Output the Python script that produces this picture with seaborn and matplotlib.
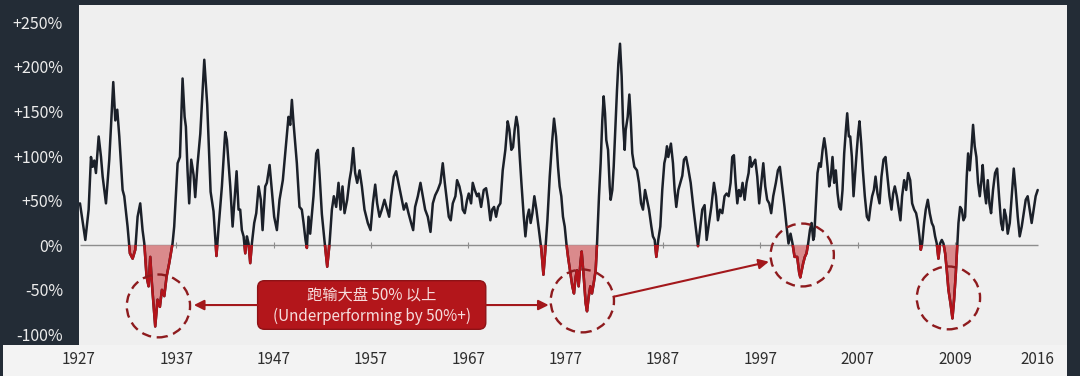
import numpy as np
import pandas as pd
import matplotlib
matplotlib.use("Agg")
import matplotlib.pyplot as plt
import seaborn as sns
from matplotlib.patches import Rectangle, Ellipse, FancyBboxPatch

# ---------------- data ----------------
years = [
    1927.10, 1927.65, 1927.99, 1928.23, 1928.40, 1928.57, 1928.74, 1929.02, 1929.26, 1929.43,
    1929.77, 1930.11, 1930.52, 1930.73, 1930.93, 1931.14, 1931.48, 1931.65, 1931.99, 1932.23,
    1932.51, 1932.78, 1933.02, 1933.29, 1933.53, 1933.71, 1933.94, 1934.15, 1934.32, 1934.49,
    1934.83, 1935.07, 1935.31, 1935.52, 1935.76, 1936.00, 1936.27, 1936.61, 1936.78, 1937.13,
    1937.37, 1937.64, 1937.85, 1937.98, 1938.15, 1938.32, 1938.53, 1938.77, 1938.94, 1939.18,
    1939.46, 1939.87, 1940.17, 1940.52, 1940.82, 1941.12, 1941.34, 1941.68, 1942.02, 1942.19,
    1942.54, 1942.78, 1942.98, 1943.19, 1943.39, 1943.56, 1943.73, 1943.91, 1944.08, 1944.25,
    1944.42, 1944.59, 1944.76, 1945.00, 1945.21, 1945.45, 1945.68, 1945.86, 1946.13, 1946.30,
    1946.58, 1946.81, 1947.05, 1947.33, 1947.60, 1947.94, 1948.22, 1948.52, 1948.70, 1948.87,
    1949.04, 1949.21, 1949.38, 1949.65, 1949.89, 1950.07, 1950.27, 1950.41, 1950.58, 1950.75,
    1951.09, 1951.37, 1951.54, 1951.71, 1951.95, 1952.22, 1952.50, 1952.74, 1952.98, 1953.18,
    1953.42, 1953.66, 1953.87, 1954.07, 1954.28, 1954.55, 1954.79, 1954.96, 1955.17, 1955.37,
    1955.58, 1955.82, 1956.06, 1956.33, 1956.67, 1956.95, 1957.19, 1957.43, 1957.63, 1957.87,
    1958.11, 1958.38, 1958.66, 1958.86, 1959.07, 1959.34, 1959.58, 1959.82, 1960.10, 1960.37,
    1960.61, 1960.85, 1961.12, 1961.33, 1961.53, 1961.81, 1962.08, 1962.32, 1962.56, 1962.83,
    1963.11, 1963.35, 1963.59, 1963.86, 1964.13, 1964.37, 1964.58, 1964.78, 1964.99, 1965.19,
    1965.40, 1965.67, 1965.84, 1966.08, 1966.29, 1966.42, 1966.63, 1966.87, 1967.04, 1967.28,
    1967.45, 1967.66, 1967.90, 1968.07, 1968.31, 1968.58, 1968.82, 1969.02, 1969.26, 1969.44,
    1969.64, 1969.85, 1970.05, 1970.29, 1970.53, 1970.80, 1971.04, 1971.21, 1971.42, 1971.59,
    1971.76, 1971.93, 1972.10, 1972.28, 1972.45, 1972.69, 1972.86, 1973.06, 1973.23, 1973.40,
    1973.58, 1973.78, 1973.99, 1974.16, 1974.33, 1974.50, 1974.71, 1974.91, 1975.12, 1975.36,
    1975.59, 1975.80, 1976.01, 1976.21, 1976.38, 1976.55, 1976.72, 1976.90, 1977.07, 1977.24,
    1977.48, 1977.68, 1977.85, 1978.03, 1978.16, 1978.33, 1978.51, 1978.64, 1978.85, 1979.05,
    1979.19, 1979.36, 1979.53, 1979.70, 1979.87, 1980.08, 1980.22, 1980.42, 1980.59, 1980.76,
    1980.90, 1981.04, 1981.17, 1981.35, 1981.52, 1981.62, 1981.79, 1981.93, 1982.13, 1982.27,
    1982.41, 1982.58, 1982.75, 1982.89, 1983.06, 1983.16, 1983.37, 1983.54, 1983.67, 1983.84,
    1984.05, 1984.32, 1984.53, 1984.74, 1984.94, 1985.15, 1985.35, 1985.56, 1985.80, 1985.96,
    1986.14, 1986.31, 1986.51, 1986.72, 1986.92, 1987.13, 1987.27, 1987.40, 1987.54, 1987.68,
    1987.81, 1988.02, 1988.19, 1988.36, 1988.57, 1988.77, 1988.98, 1989.15, 1989.36, 1989.56,
    1989.84, 1990.11, 1990.35, 1990.59, 1990.79, 1991.03, 1991.27, 1991.48, 1991.72, 1991.96,
    1992.23, 1992.44, 1992.64, 1992.85, 1993.09, 1993.32, 1993.53, 1993.74, 1993.94, 1994.11,
    1994.28, 1994.46, 1994.63, 1994.80, 1994.97, 1995.17, 1995.38, 1995.58, 1995.79, 1995.93,
    1996.10, 1996.27, 1996.47, 1996.68, 1996.88, 1997.09, 1997.30, 1997.50, 1997.70, 1997.91,
    1998.11, 1998.32, 1998.59, 1998.80, 1999.00, 1999.24, 1999.48, 1999.69, 1999.89, 2000.10,
    2000.30, 2000.51, 2000.78, 2000.99, 2001.10, 2001.40, 2001.57, 2001.74, 2001.91, 2002.09,
    2002.26, 2002.43, 2002.53, 2002.67, 2002.87, 2003.04, 2003.21, 2003.39, 2003.56, 2003.73,
    2003.90, 2004.07, 2004.24, 2004.41, 2004.58, 2004.75, 2004.93, 2005.10, 2005.27, 2005.44,
    2005.61, 2005.78, 2005.92, 2006.09, 2006.23, 2006.40, 2006.57, 2006.71, 2006.91, 2007.05,
    2007.18, 2007.36, 2007.53, 2007.73, 2007.94, 2008.14, 2008.31, 2008.48, 2008.66, 2008.83,
    2009.03, 2009.24, 2009.44, 2009.65, 2009.85, 2010.06, 2010.26, 2010.47, 2010.64, 2010.81,
    2011.02, 2011.22, 2011.39, 2011.56, 2011.77, 2011.98, 2012.18, 2012.39, 2012.59, 2012.80,
    2013.00, 2013.14, 2013.34, 2013.48, 2013.62, 2013.82, 2013.99, 2014.20, 2014.40, 2014.61,
    2014.78, 2014.95, 2015.12, 2015.29, 2015.46, 2015.64, 2015.81, 2015.98, 2016.15, 2016.32,
    2016.53, 2016.73, 2016.90, 2017.08, 2017.21, 2017.35, 2017.52, 2017.69, 2017.86, 2018.03,
    2018.20, 2018.34, 2018.51, 2018.68, 2018.85, 2019.02, 2019.19, 2019.36, 2019.54, 2019.71,
    2019.84, 2020.02, 2020.19, 2020.36, 2020.53, 2020.70, 2020.90, 2021.11, 2021.32, 2021.52,
    2021.73, 2021.90, 2022.07, 2022.24, 2022.41, 2022.62, 2022.82, 2023.03, 2023.23, 2023.44,
    2023.64, 2023.85, 2024.05, 2024.26, 2024.46, 2024.67, 2024.87, 2025.08, 2025.28, 2025.49,
]
values = [
    47, 6, 40, 99, 88, 95, 81, 122, 99, 77,
    47, 96, 183, 140, 152, 122, 62, 55, 21, -9,
    -15, -5, 32, 47, 17, 2, -35, -46, -13, -43,
    -91, -61, -69, -50, -57, -35, -20, 2, 21, 92,
    99, 187, 144, 133, 84, 47, 96, 79, 54, 91,
    125, 208, 158, 60, 38, -12, 20, 66, 127, 118,
    66, 21, 51, 83, 40, 40, 17, 10, -9, 10,
    2, -20, 2, 25, 36, 66, 51, 17, 66, 70,
    90, 62, 32, 17, 51, 73, 107, 144, 135, 163,
    137, 114, 92, 43, 40, 25, 6, -3, 32, 13,
    55, 103, 107, 80, 35, 5, -24, 2, 40, 55,
    43, 70, 40, 66, 36, 51, 73, 84, 109, 81,
    70, 84, 66, 40, 25, 17, 47, 68, 47, 32,
    40, 51, 40, 32, 55, 77, 83, 70, 55, 40,
    47, 36, 25, 17, 43, 55, 70, 55, 40, 32,
    15, 47, 56, 62, 70, 92, 70, 51, 32, 28,
    47, 55, 73, 66, 55, 40, 36, 51, 58, 47,
    70, 62, 55, 58, 43, 62, 64, 51, 28, 40,
    43, 32, 43, 47, 84, 107, 139, 130, 107, 110,
    130, 144, 133, 99, 70, 32, 10, 32, 40, 25,
    36, 55, 40, 25, 10, -5, -33, -5, 28, 77,
    114, 142, 122, 88, 66, 55, 32, 21, 2, -13,
    -31, -46, -54, -35, -28, -46, -20, -7, -35, -65,
    -74, -58, -46, -54, -43, -28, 2, 55, 92, 140,
    167, 148, 118, 107, 66, 51, 62, 88, 140, 174,
    204, 226, 189, 137, 107, 129, 144, 169, 144, 103,
    88, 84, 70, 47, 40, 62, 51, 40, 21, 10,
    6, -13, 6, 21, 62, 92, 99, 111, 99, 107,
    114, 92, 62, 43, 62, 70, 78, 96, 99, 88,
    70, 43, 21, -1, 17, 40, 45, 6, 25, 43,
    70, 55, 28, 40, 36, 55, 58, 55, 70, 99,
    101, 70, 47, 62, 55, 70, 51, 70, 81, 99,
    88, 92, 96, 77, 47, 70, 92, 66, 51, 47,
    36, 55, 70, 84, 88, 66, 43, 21, 2, 13,
    2, -13, -13, -31, -36, -20, -13, -9, 2, 17,
    25, 6, 10, 40, 81, 92, 88, 107, 120, 107,
    88, 66, 77, 99, 70, 84, 58, 43, 40, 62,
    103, 129, 148, 122, 122, 99, 55, 77, 107, 126,
    139, 114, 84, 55, 32, 28, 43, 55, 62, 77,
    58, 47, 77, 96, 99, 77, 55, 40, 58, 66,
    55, 40, 28, 55, 73, 62, 81, 73, 47, 40,
    36, 28, 10, -5, 2, 25, 40, 51, 36, 25,
    21, 10, 2, -15, 2, 6, 2, -9, -28, -50,
    -65, -82, -61, -31, -5, 25, 43, 40, 28, 32,
    77, 103, 84, 107, 135, 111, 99, 70, 55, 73,
    90, 62, 47, 73, 47, 36, 62, 81, 86, 55,
    25, 17, 40, 32, 13, 25, 55, 86, 62, 32,
    10, 21, 36, 51, 55, 40, 25, 40, 55, 62,
]

x_tick_pos = [1927, 1937, 1947, 1957, 1967, 1977, 1987, 1997, 2007, 2017, 2025.5]
x_tick_labels = ["1927", "1937", "1947", "1957", "1967", "1977", "1987", "1997", "2007", "2009", "2016"]
y_ticks = [-100, -50, 0, 50, 100, 150, 200, 250]
y_tick_labels = ["-100%", "-50%", "0%", "+50%", "+100%", "+150%", "+200%", "+250%"]

highlight_x = [1935.16, 1978.71, 2001.30, 2016.32]
highlight_y = [-68.0, -62.4, -10.9, -59.0]

note_line1 = "跑输大盘 50% 以上"
note_line2 = "(Underperforming by 50%+)"

# ---------------- styling ----------------
DARK = "#232c36"
LINE = "#1b2029"
RED = "#b3141b"
RED_DARK = "#8e1b1e"
FILL = "#da8a8c"

sns.set_theme(style="white")
plt.rcParams["font.family"] = ["Noto Sans CJK SC", "DejaVu Sans"]

W, H = 1080, 376
fig = plt.figure(figsize=(W / 100, H / 100), dpi=100, facecolor="#f3f3f3")

# dark frame pieces
fig.add_artist(Rectangle((0, 31 / H), 79 / W, 345 / H, transform=fig.transFigure,
                         facecolor=DARK, edgecolor="none", zorder=-1))
fig.add_artist(Rectangle((0, (H - 5) / H), 1, 5 / H, transform=fig.transFigure,
                         facecolor=DARK, edgecolor="none", zorder=-1))
fig.add_artist(Rectangle((1067 / W, 0), 13 / W, 1, transform=fig.transFigure,
                         facecolor=DARK, edgecolor="none", zorder=-1))
fig.add_artist(Rectangle((0, 0), 3 / W, 1, transform=fig.transFigure,
                         facecolor=DARK, edgecolor="none", zorder=-1))

ax = fig.add_axes([79 / W, 31 / H, 988 / W, 340 / H])
ax.set_facecolor("#efefef")

df = pd.DataFrame({"year": years, "value": values})
x = df["year"].to_numpy()
y = df["value"].to_numpy(dtype=float)

# zero line and its small tick marks
ax.hlines(0, x[0], x[-1], color="#8d8d8d", lw=1.0, zorder=1)
ax.plot(x_tick_pos[1:-1], [0] * (len(x_tick_pos) - 2), ls="none", marker="|",
        ms=4, mew=0.8, color="#8d8d8d", zorder=1)

# negative shading
ax.fill_between(x, y, 0, where=y < 0, interpolate=True, color=FILL, lw=0, zorder=2)

# main line
sns.lineplot(data=df, x="year", y="value", ax=ax, color=LINE, linewidth=1.8,
             estimator=None, sort=False, zorder=3)

# red part of the line below zero
neg_clip = Rectangle((x[0] - 5, -400), (x[-1] - x[0]) + 10, 400, transform=ax.transData)
red_line, = ax.plot(x, y, color=RED, lw=1.8, zorder=4)
red_line.set_clip_path(neg_clip)

ax.set_xlim(1927.1, 2028.5)
ax.set_ylim(-111.8, 269.4)

ax.set_xticks(x_tick_pos, x_tick_labels)
ax.set_yticks(y_ticks, y_tick_labels)
ax.tick_params(axis="x", length=0, pad=4, labelsize=11, labelcolor="#2d2d2d")
ax.tick_params(axis="y", length=0, pad=11.5, labelsize=11.5, labelcolor="#ececec")
ax.set_xlabel("")
ax.set_ylabel("")
for s in ax.spines.values():
    s.set_visible(False)
ax.grid(False)

# dashed highlight circles
for cx, cy in zip(highlight_x, highlight_y):
    ax.add_patch(Ellipse((cx, cy), width=6.5, height=70.5, fill=False,
                         ec=RED_DARK, lw=1.7, ls=(0, (4, 2.4)), zorder=5))

# annotation box
box_x0, box_x1 = 1945.35, 1968.79
box_y0, box_y1 = -94.2, -39.7
ax.add_patch(FancyBboxPatch((box_x0, box_y0), box_x1 - box_x0, box_y1 - box_y0,
                            boxstyle="round,pad=0,rounding_size=0.7",
                            mutation_aspect=10.9, fc="#b3161b", ec="#8d1216",
                            lw=1.0, zorder=6))
cx_box = (box_x0 + box_x1) / 2
ax.text(cx_box, -55.7, note_line1, ha="center", va="center", fontsize=11,
        color="#f6dcdc", zorder=7)
ax.text(cx_box, -80.0, note_line2, ha="center", va="center", fontsize=11,
        color="#f6dcdc", zorder=7)

arrow_kw = dict(arrowstyle="-|>,head_length=0.5,head_width=0.25", color="#a3181c",
                lw=1.5, shrinkA=0, shrinkB=0)
ax.annotate("", xy=(1938.8, -67), xytext=(box_x0, -67), arrowprops=arrow_kw, zorder=6)
ax.annotate("", xy=(1975.25, -67), xytext=(box_x1, -67), arrowprops=arrow_kw, zorder=6)
ax.annotate("", xy=(1997.87, -18.4), xytext=(1981.96, -57.6), arrowprops=arrow_kw, zorder=6)

fig.savefig("out.png", dpi=100, facecolor=fig.get_facecolor())
